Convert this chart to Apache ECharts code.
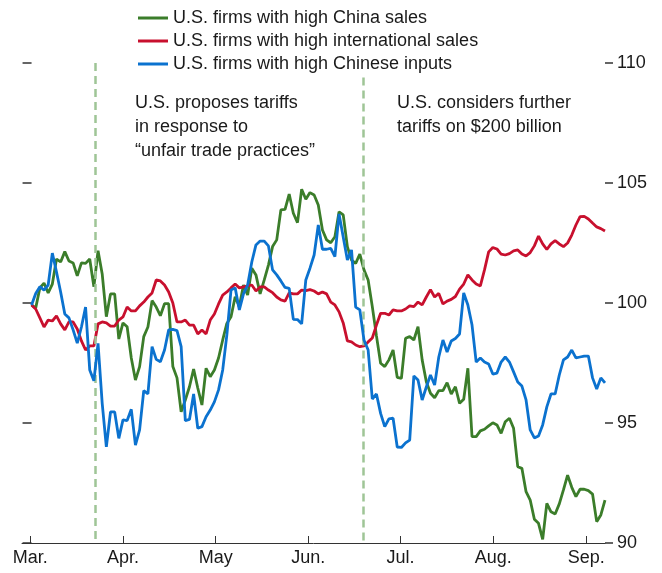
<!DOCTYPE html>
<html>
<head>
<meta charset="utf-8">
<script src="https://cdn.jsdelivr.net/npm/echarts@6/dist/echarts.min.js"></script>
<style>
  html, body { margin: 0; padding: 0; background: #fff; }
  #graph { width: 662px; height: 573px; }
</style>
</head>
<body>
<div id="graph"></div>
<script>
// trading-day index runs 0..138, from early March to early September
var monthLabels = ['Mar.', 'Apr.', 'May', 'Jun.', 'Jul.', 'Aug.', 'Sep.'];
var monthStarts = [-0.3, 22, 44.3, 66.6, 88.8, 111.1, 133.5];
var eventDays = [15.3, 79.9];
var eventNotes = [
    'U.S. proposes tariffs\nin response to\n\u201Cunfair trade practices\u201D',
    'U.S. considers further\ntariffs on $200 billion'
];
var seriesNames = [
    'U.S. firms with high China sales',
    'U.S. firms with high international sales',
    'U.S. firms with high Chinese inputs'
];

var chinaSales = [
    99.92, 99.79, 100.63, 100.83, 100.42, 100.79, 101.83, 101.71, 102.14, 101.75,
    101.67, 101.13, 101.67, 101.65, 101.83, 100.68, 102.18, 101.21, 99.43, 100.38,
    100.38, 98.50, 99.17, 99.01, 97.71, 96.79, 97.35, 98.60, 99.00, 100.10,
    99.83, 99.47, 99.97, 99.97, 97.35, 96.88, 95.47, 95.96, 96.51, 97.25,
    96.46, 95.75, 97.28, 96.93, 97.21, 97.71, 98.46, 99.15, 99.43, 100.26,
    99.85, 100.75, 100.33, 101.45, 101.17, 100.38, 100.96, 101.58, 102.35, 102.63,
    103.88, 103.90, 104.54, 103.74, 103.35, 104.74, 104.32, 104.60, 104.50, 104.08,
    103.04, 102.63, 102.51, 102.76, 103.80, 103.67, 102.35, 101.79, 101.65, 102.04,
    101.38, 100.96, 99.85, 98.63, 97.49, 97.35, 97.63, 98.04, 96.90, 96.86,
    98.53, 98.60, 98.46, 99.01, 97.63, 96.72, 96.24, 96.05, 96.35, 96.35,
    96.68, 96.21, 96.51, 95.82, 95.99, 97.28, 94.43, 94.43, 94.67, 94.74,
    94.88, 95.01, 94.92, 94.57, 95.05, 95.20, 94.78, 93.18, 93.11, 92.14,
    91.79, 90.99, 90.82, 90.15, 91.65, 91.30, 91.21, 91.63, 92.21, 92.83,
    92.32, 91.93, 92.24, 92.24, 92.18, 92.04, 90.89, 91.17, 91.79
];

var intlSales = [
    99.92, 99.75, 99.38, 99.00, 99.29, 99.25, 99.46, 99.13, 98.88, 99.21,
    99.21, 98.92, 98.42, 98.04, 98.21, 98.21, 99.13, 99.21, 99.17, 99.04,
    99.04, 99.29, 99.42, 99.83, 99.67, 99.67, 99.88, 100.04, 100.25, 100.42,
    100.96, 100.92, 100.75, 100.46, 100.00, 99.21, 99.21, 99.29, 99.08, 99.08,
    98.71, 98.88, 98.71, 99.29, 99.54, 99.96, 100.33, 100.46, 100.63, 100.79,
    100.63, 100.67, 100.71, 100.75, 100.50, 100.67, 100.67, 100.54, 100.43, 100.25,
    100.13, 100.08, 100.42, 100.38, 100.38, 100.54, 100.52, 100.56, 100.50, 100.38,
    100.46, 100.38, 100.04, 99.92, 99.63, 99.17, 98.42, 98.38, 98.25, 98.18,
    98.21, 98.38, 98.54, 99.08, 99.57, 99.57, 99.50, 99.71, 99.67, 99.67,
    99.75, 99.88, 99.85, 100.04, 99.92, 100.25, 100.56, 100.25, 100.40, 99.96,
    100.08, 100.15, 100.27, 100.58, 100.79, 101.17, 100.96, 100.79, 100.71, 101.38,
    102.13, 102.31, 102.25, 102.04, 102.00, 102.06, 102.17, 102.21, 102.04, 101.96,
    102.10, 102.38, 102.79, 102.46, 102.23, 102.46, 102.60, 102.46, 102.35, 102.50,
    102.83, 103.25, 103.60, 103.61, 103.50, 103.33, 103.17, 103.10, 103.00
];

var chineseInputs = [
    99.92, 100.40, 100.68, 100.54, 100.75, 102.08, 101.29, 100.46, 99.54, 99.38,
    98.88, 98.33, 99.00, 99.83, 97.21, 96.76, 98.32, 95.82, 94.01, 95.46,
    95.46, 94.36, 95.13, 95.10, 95.57, 94.08, 94.71, 96.35, 96.21, 98.18,
    97.65, 97.55, 98.04, 98.88, 98.90, 98.85, 98.18, 95.10, 95.15, 96.21,
    94.78, 94.85, 95.26, 95.54, 95.88, 96.38, 97.21, 98.67, 100.54, 100.63,
    99.71, 100.38, 100.75, 101.71, 102.42, 102.58, 102.58, 102.38, 101.38, 101.17,
    100.92, 100.65, 100.61, 99.32, 99.31, 99.13, 100.96, 101.45, 102.00, 103.25,
    102.24, 102.24, 102.28, 101.93, 103.71, 102.75, 101.79, 102.21, 99.83, 99.71,
    98.46, 98.04, 96.00, 96.21, 95.40, 94.85, 95.17, 95.20, 94.00, 93.98,
    94.17, 94.29, 96.96, 96.79, 95.96, 96.50, 97.00, 96.58, 97.75, 98.46,
    97.96, 98.42, 98.52, 98.71, 100.42, 99.92, 99.08, 97.54, 97.71, 97.54,
    97.46, 97.04, 97.08, 97.54, 97.75, 97.54, 97.13, 96.71, 96.54, 95.96,
    94.71, 94.38, 94.46, 94.92, 95.67, 96.21, 96.21, 97.00, 97.63, 97.75,
    98.04, 97.71, 97.75, 97.79, 97.79, 96.88, 96.42, 96.88, 96.67
];

var colors = ['#3b7d2a', '#c8102e', '#0b72cf'];
var FONT = "'Liberation Sans Narrow', 'Arial Narrow', sans-serif";

function toPoints(values) {
    return values.map(function (v, i) { return [i, v]; });
}

var dom = document.getElementById('graph');
var chart = echarts.init(dom, null, { renderer: 'canvas' });

var lineSeries = [chinaSales, intlSales, chineseInputs].map(function (values, k) {
    return {
        name: seriesNames[k],
        type: 'line',
        data: toPoints(values),
        showSymbol: false,
        symbol: 'none',
        lineStyle: { width: 2.8, color: colors[k] },
        itemStyle: { color: colors[k] },
        z: 3 + k
    };
});

// vertical event markers
lineSeries[0].markLine = {
    silent: true,
    symbol: ['none', 'none'],
    label: { show: false },
    lineStyle: { color: '#9fc596', width: 2.5, type: [8, 5] },
    data: [
        [{ coord: [eventDays[0], 110] }, { coord: [eventDays[0], 90] }],
        [{ coord: [eventDays[1], 109.4] }, { coord: [eventDays[1], 90] }]
    ]
};

chart.setOption({
    animation: false,
    color: colors,
    textStyle: { fontFamily: FONT },
    grid: { left: 22, right: 57, top: 63, bottom: 30 },
    legend: {
        orient: 'vertical',
        left: 133,
        top: 4,
        itemWidth: 30,
        itemHeight: 3,
        itemGap: 5,
        icon: 'rect',
        data: seriesNames,
        textStyle: { fontFamily: FONT, fontSize: 18, color: '#1a1a1a' }
    },
    graphic: [
        {
            type: 'text', left: 135, top: 91,
            style: { text: eventNotes[0], font: '18px ' + FONT, lineHeight: 24, fill: '#1a1a1a' }
        },
        {
            type: 'text', left: 397, top: 91,
            style: { text: eventNotes[1], font: '18px ' + FONT, lineHeight: 24, fill: '#1a1a1a' }
        }
    ],
    xAxis: {
        type: 'value',
        min: -2.3,
        max: 138,
        splitLine: { show: false },
        axisLine: { lineStyle: { color: '#333', width: 1 } },
        axisTick: {
            inside: true, length: 7,
            customValues: monthStarts,
            lineStyle: { color: '#333' }
        },
        axisLabel: {
            customValues: monthStarts,
            margin: 6,
            fontSize: 18,
            color: '#1a1a1a',
            fontFamily: FONT,
            formatter: function (v) {
                var best = 0;
                for (var k = 1; k < monthStarts.length; k++) {
                    if (Math.abs(monthStarts[k] - v) < Math.abs(monthStarts[best] - v)) best = k;
                }
                return monthLabels[best];
            }
        }
    },
    yAxis: [
        {
            type: 'value', position: 'left',
            min: 90, max: 110, interval: 5,
            offset: -9,
            splitLine: { show: false },
            axisLine: { show: false },
            axisTick: { show: true, inside: false, length: 9, lineStyle: { color: '#333', width: 1.5 } },
            axisLabel: { show: false }
        },
        {
            type: 'value', position: 'right',
            min: 90, max: 110, interval: 5,
            splitLine: { show: false },
            axisLine: { show: false },
            axisTick: { show: true, inside: false, length: 8, lineStyle: { color: '#333', width: 1.5 } },
            axisLabel: { margin: 12, fontSize: 18, color: '#1a1a1a', fontFamily: FONT }
        }
    ],
    series: lineSeries
});
</script>
</body>
</html>
